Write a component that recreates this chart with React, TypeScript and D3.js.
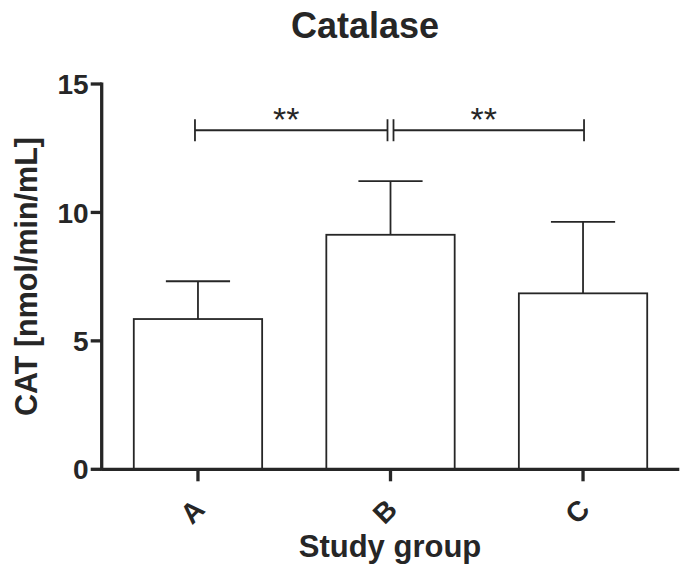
import React from "react";
import * as d3 from "d3";

const categories = ["A", "B", "C"];
const means = [5.85, 9.13, 6.85];
const sdUpper = [7.32, 11.22, 9.63];
const yTicks = [0, 5, 10, 15];
const comparisons = [
  { from: "A", to: "B", label: "**", level: 13.2 },
  { from: "B", to: "C", label: "**", level: 13.2 },
];
const title = "Catalase";
const yTitle = "CAT [nmol/min/mL]";
const xTitle = "Study group";

const W = 694;
const H = 579;
const left = 101.7;
const right = 679.3;
const top = 84;
const bottom = 469.3;
const ink = "#262626";
const font = "'Liberation Sans', Arial, Helvetica, sans-serif";

export default function App() {
  const x = d3
    .scaleBand<string>()
    .domain(categories)
    .range([left, right])
    .paddingInner(1 / 3)
    .paddingOuter(1 / 6);
  const y = d3.scaleLinear().domain([0, 15]).range([bottom, top]);
  const bw = x.bandwidth();
  const cx = (c: string) => (x(c) as number) + bw / 2;
  const capHalf = bw / 4;

  return (
    <svg
      width={W}
      height={H}
      viewBox={`0 0 ${W} ${H}`}
      style={{ position: "absolute", left: 0, top: 0, background: "#fff" }}
    >
      <rect x={0} y={0} width={W} height={H} fill="#fff" />
      <text
        x={365}
        y={38}
        textAnchor="middle"
        fontFamily={font}
        fontWeight="bold"
        fontSize={36}
        fill={ink}
      >
        {title}
      </text>

      {/* bars */}
      {categories.map((c, i) => (
        <g key={c}>
          <line
            x1={cx(c)}
            x2={cx(c)}
            y1={y(means[i])}
            y2={y(sdUpper[i])}
            stroke={ink}
            strokeWidth={1.8}
          />
          <line
            x1={cx(c) - capHalf}
            x2={cx(c) + capHalf}
            y1={y(sdUpper[i])}
            y2={y(sdUpper[i])}
            stroke={ink}
            strokeWidth={1.8}
          />
          <rect
            x={x(c)}
            y={y(means[i])}
            width={bw}
            height={y(0) - y(means[i])}
            fill="#fff"
            stroke={ink}
            strokeWidth={1.8}
          />
        </g>
      ))}

      {/* y axis */}
      <line x1={left} x2={left} y1={top - 1.5} y2={bottom + 1.5} stroke={ink} strokeWidth={3.3} />
      {yTicks.map((t) => (
        <g key={t}>
          <line x1={left - 11} x2={left} y1={y(t)} y2={y(t)} stroke={ink} strokeWidth={3.3} />
          <text
            x={left - 13}
            y={y(t)}
            dy="0.36em"
            textAnchor="end"
            fontFamily={font}
            fontWeight="bold"
            fontSize={28}
            fill={ink}
          >
            {t}
          </text>
        </g>
      ))}

      {/* x axis */}
      <line x1={left} x2={right} y1={bottom} y2={bottom} stroke={ink} strokeWidth={3.3} />
      {categories.map((c) => (
        <g key={c}>
          <line x1={cx(c)} x2={cx(c)} y1={bottom} y2={bottom + 12} stroke={ink} strokeWidth={3.3} />
          <text
            transform={`translate(${cx(c) - 6},${bottom + 42}) rotate(-45)`}
            textAnchor="middle"
            dy="0.36em"
            fontFamily={font}
            fontWeight="bold"
            fontSize={28}
            fill={ink}
          >
            {c}
          </text>
        </g>
      ))}

      {/* significance brackets */}
      {comparisons.map((cmp, i) => {
        const x1 = cx(cmp.from) + (i === 0 ? -3 : 3);
        const x2 = cx(cmp.to) + (i === 0 ? -3 : 1);
        const yy = y(cmp.level);
        return (
          <g key={i}>
            <line x1={x1} x2={x2} y1={yy} y2={yy} stroke={ink} strokeWidth={1.8} />
            <line x1={x1} x2={x1} y1={yy - 11} y2={yy + 11} stroke={ink} strokeWidth={1.8} />
            <line x1={x2} x2={x2} y1={yy - 11} y2={yy + 11} stroke={ink} strokeWidth={1.8} />
            <text
              x={(x1 + x2) / 2 - 5}
              y={yy + 1}
              textAnchor="middle"
              fontFamily={font}
              fontSize={34}
              fill={ink}
            >
              {cmp.label}
            </text>
          </g>
        );
      })}

      {/* axis titles */}
      <text
        transform={`translate(37,276.5) rotate(-90)`}
        textAnchor="middle"
        fontFamily={font}
        fontWeight="bold"
        fontSize={30.5}
        fill={ink}
      >
        {yTitle}
      </text>
      <text
        x={390}
        y={557}
        textAnchor="middle"
        fontFamily={font}
        fontWeight="bold"
        fontSize={31}
        fill={ink}
      >
        {xTitle}
      </text>
    </svg>
  );
}
